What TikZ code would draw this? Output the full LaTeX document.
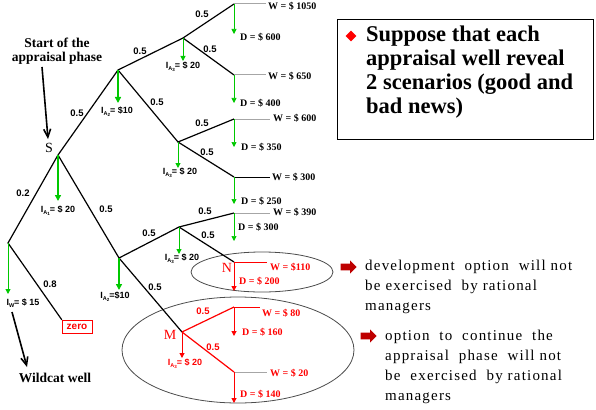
\documentclass[tikz,border=0pt]{standalone}
\usepackage{fontspec}
\setmainfont{Liberation Serif}
\newfontfamily\lsans{Liberation Sans}
\newfontfamily\spaced[LetterSpace=8]{Liberation Serif}
\usetikzlibrary{arrows.meta,shapes.geometric,shapes.arrows}
\definecolor{gr}{RGB}{0,200,0}
\definecolor{rd}{RGB}{255,0,0}
\definecolor{dkred}{RGB}{190,0,0}
\newcommand\IA[1]{I\raisebox{-2.2pt}{\fontsize{5.5}{5}\selectfont A\raisebox{-1pt}{\fontsize{4.5}{4}\selectfont #1}}}
\newcommand\IWsub{I\raisebox{-2.2pt}{\fontsize{5.5}{5}\selectfont W}}
\begin{document}
\begin{tikzpicture}[x=1pt,y=-1pt,
  tree/.style={line width=1.2pt,black},
  redtree/.style={line width=1.2pt,rd},
  wline/.style={line width=1pt,gray!70},
  prob/.style={font=\lsans\bfseries\fontsize{9.5}{10}\selectfont,inner sep=0pt},
  inv/.style={font=\lsans\bfseries\fontsize{9}{10}\selectfont,inner sep=0pt},
  val/.style={font=\bfseries\fontsize{10}{11}\selectfont,anchor=west,inner sep=0pt},
  garr/.style={-{Triangle[length=6pt,width=6pt]},gr,line width=1.6pt},
  gthin/.style={-{Triangle[length=5pt,width=5pt]},gr,line width=0.7pt},
  rarr/.style={-{Triangle[length=5pt,width=5pt]},rd,line width=1pt},
  bigarr/.style={-{Straight Barb[length=8pt,width=7pt]},line width=1.6pt},
  blockarr/.style={single arrow,fill=dkred,draw=none,minimum height=16pt,inner xsep=3pt,inner ysep=3.2pt,single arrow head extend=3.2pt,single arrow tip angle=90},
  rtext/.style={anchor=west,align=left,font=\spaced\fontsize{15}{20}\selectfont,inner sep=0pt}
]
\useasboundingbox (0,0) rectangle (596,409);

% branch points
\coordinate (S) at (58,155);
\coordinate (A2) at (118,70);
\coordinate (A3a) at (183,38);
\coordinate (A3b) at (178,142);
\coordinate (B2) at (119,258);
\coordinate (A3c) at (179,227);
\coordinate (N) at (234,262);
\coordinate (M) at (182,332);
\coordinate (Wn) at (8,243);
% terminal points
\coordinate (T1) at (234,4);   \coordinate (T1e) at (266,4);   \coordinate (T1d) at (234,34);
\coordinate (T2) at (234,75);  \coordinate (T2e) at (266,75);  \coordinate (T2d) at (234,103);
\coordinate (T3) at (234,119); \coordinate (T3e) at (270,119); \coordinate (T3d) at (234,147);
\coordinate (T4) at (234,177); \coordinate (T4e) at (270,177); \coordinate (T4d) at (234,204);
\coordinate (T5) at (234,213); \coordinate (T5e) at (270,213); \coordinate (T5d) at (234,241);
\coordinate (Ne) at (267,262); \coordinate (Nd) at (234,291);
\coordinate (T7) at (234,307); \coordinate (T7e) at (260,307); \coordinate (T7d) at (234,336);
\coordinate (T8) at (234,372); \coordinate (T8e) at (267,372); \coordinate (T8d) at (234,403);
% investment arrow ends
\coordinate (Sd) at (58,201);
\coordinate (A2d) at (118,103);
\coordinate (A3ad) at (183,61);
\coordinate (A3bd) at (178,168);
\coordinate (B2d) at (119,290);
\coordinate (A3cd) at (179,254);
\coordinate (Md) at (182,358);
\coordinate (Wnd) at (8,294);

% ellipses
\draw[gray!60!black,line width=0.8pt] (262,272) ellipse [x radius=71,y radius=20];
\draw[gray!60!black,line width=0.8pt] (238,350) ellipse [x radius=116,y radius=53];

% zero box
\node[draw=rd,text=rd,font=\lsans\bfseries\fontsize{10}{12}\selectfont,inner sep=1pt,minimum width=30pt,minimum height=13pt] (zero) at (77,326.5) {zero};

% tree lines
\draw[tree] (S) -- (A2) -- (A3a) -- (T1);
\draw[tree] (A3a) -- (T2);
\draw[tree] (A2) -- (A3b) -- (T3);
\draw[tree] (A3b) -- (T4);
\draw[tree] (S) -- (B2) -- (A3c) -- (T5);
\draw[tree] (A3c) -- (N);
\draw[tree] (B2) -- (M);
\draw[redtree] (M) -- (T7);
\draw[redtree] (M) -- (T8);
\draw[tree] (S) -- (Wn) -- (zero.north west);

% W lines
\draw[wline] (T1) -- (T1e);
\draw[wline] (T2) -- (T2e);
\draw[wline] (T3) -- (T3e);
\draw[tree,line width=0.9pt] (T4) -- (T4e);
\draw[wline] (T5) -- (T5e);
\draw[redtree,line width=1pt] (N) -- (Ne);
\draw[redtree,line width=1pt] (T7) -- (T7e);
\draw[wline] (T8) -- (T8e);

% D arrows
\draw[gthin] (T1) -- (T1d);
\draw[gthin] (T2) -- (T2d);
\draw[gthin] (T3) -- (T3d);
\draw[gthin] (T4) -- (T4d);
\draw[gthin] (T5) -- (T5d);
\draw[rarr] (N) -- (Nd);
\draw[rarr] (T7) -- (T7d);
\draw[rarr] (T8) -- (T8d);

% investment arrows
\draw[garr] (S) -- (Sd);
\draw[garr] (A2) -- (A2d);
\draw[gthin,line width=1pt] (A3a) -- (A3ad);
\draw[gthin,line width=1pt] (A3b) -- (A3bd);
\draw[garr] (B2) -- (B2d);
\draw[gthin,line width=1pt] (A3c) -- (A3cd);
\draw[rarr] (M) -- (Md);
\draw[gthin,line width=1pt] (Wn) -- (Wnd);

% probabilities
\node[prob] (p1) at (77,113) {0.5};
\node[prob] (p2) at (140,51) {0.5};
\node[prob] (p3) at (202,14) {0.5};
\node[prob] (p4) at (210,49) {0.5};
\node[prob] (p5) at (157,102) {0.5};
\node[prob] (p6) at (202,123) {0.5};
\node[prob] (p7) at (207,152) {0.5};
\node[prob] (p8) at (106,209) {0.5};
\node[prob] (p9) at (149,233) {0.5};
\node[prob] (p10) at (205,211) {0.5};
\node[prob] (p11) at (208,235) {0.5};
\node[prob] (p12) at (155,287) {0.5};
\node[prob,text=rd] (p13) at (203,311) {0.5};
\node[prob,text=rd] (p14) at (213,347) {0.5};
\node[prob] (p15) at (23,193) {0.2};
\node[prob] (p16) at (50,284) {0.8};

% investments
\node[inv] (i1) at (117,112) {\IA{2}= \$10};
\node[inv] (i2) at (183,67) {\IA{3}= \$ 20};
\node[inv] (i3) at (180,173) {\IA{3}= \$ 20};
\node[inv] (i4) at (58,211) {\IA{1}= \$ 20};
\node[inv] (i5) at (115,297) {\IA{2}=\$10};
\node[inv] (i6) at (182,259) {\IA{3}= \$ 20};
\node[inv,text=rd] (i7) at (185,364) {\IA{3}= \$ 20};
\node[inv] (i8) at (23,303) {\IWsub= \$ 15};

% values
\node[val] (w1) at (268,6) {W = \$ 1050};
\node[val] (d1) at (240,37) {D = \$ 600};
\node[val] (w2) at (268,76) {W = \$ 650};
\node[val] (d2) at (240,103) {D = \$ 400};
\node[val] (w3) at (273,118) {W = \$ 600};
\node[val] (d3) at (241,147) {D = \$ 350};
\node[val] (w4) at (272,177) {W = \$ 300};
\node[val] (d4) at (241,201) {D = \$ 250};
\node[val] (w5) at (273,212) {W = \$ 390};
\node[val] (d5) at (238,227) {D = \$ 300};
\node[val,text=rd] (w6) at (270,267) {W = \$110};
\node[val,text=rd] (d6) at (239,281) {D = \$ 200};
\node[val,text=rd] (w7) at (262,313) {W = \$ 80};
\node[val,text=rd] (d7) at (242,332) {D = \$ 160};
\node[val,text=rd] (w8) at (270,373) {W = \$ 20};
\node[val,text=rd] (d8) at (240,394) {D = \$ 140};

% node letters
\node[font=\fontsize{14}{14}\selectfont,inner sep=0pt] (Slab) at (49,148) {S};
\node[font=\fontsize{14}{14}\selectfont,text=rd,inner sep=0pt] (Nlab) at (227,268) {N};
\node[font=\fontsize{14}{14}\selectfont,text=rd,inner sep=0pt] (Mlab) at (170,335) {M};

% start and wildcat
\node[font=\bfseries\fontsize{13.5}{14}\selectfont,align=center,inner sep=0pt] (start) at (57,51) {Start of the\\appraisal phase};
\coordinate (startA) at (42,67);
\coordinate (startB) at (48,139);
\draw[bigarr] (startA) -- (startB);
\node[font=\bfseries\fontsize{13.5}{14}\selectfont,inner sep=0pt] (wild) at (55,378) {Wildcat well};
\coordinate (wildA) at (12,312);
\coordinate (wildB) at (27,367);
\draw[bigarr] (wildA) -- (wildB);

% box
\node[draw,line width=0.8pt,minimum width=256pt,minimum height=120pt,anchor=north west,inner sep=0pt] (box) at (337,19) {};
\node[diamond,fill=rd,minimum size=11pt,inner sep=0pt] (dia) at (351,36) {};
\node[anchor=west,align=left,font=\bfseries\fontsize{22.5}{24}\selectfont,inner sep=0pt] (boxtext) at (366,72) {Suppose that each\\appraisal well reveal\\2 scenarios (good and\\bad news)};

% right remarks
\node[blockarr] (ar1) at (347,267) {};
\node[rtext] (t1) at (365,287) {development\ \ option\ \ will not\\be exercised\ \ by rational\\managers};
\node[blockarr] (ar2) at (367,336) {};
\node[rtext] (t2) at (385,367) {option\ \ to\ \ continue\ \ the\\appraisal\ \ phase\ \ will not\\be\ \ exercised\ \ by rational\\managers};
\end{tikzpicture}
\end{document}
